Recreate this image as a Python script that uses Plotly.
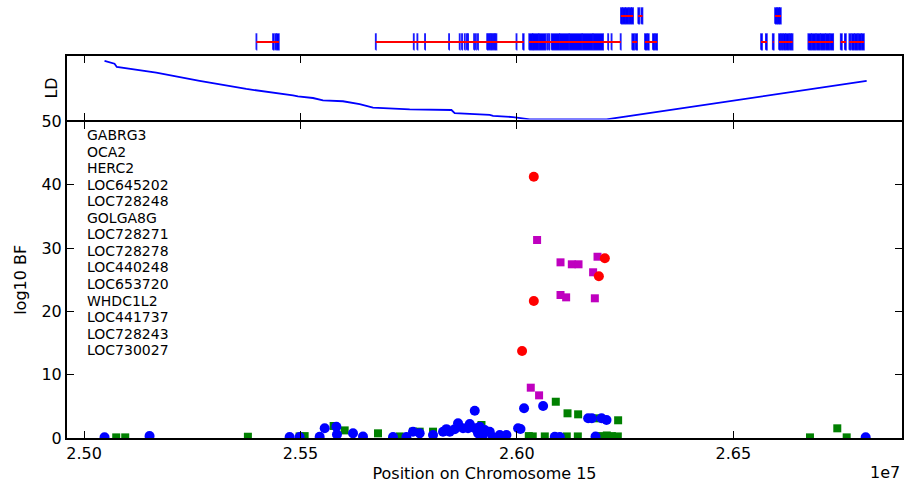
import plotly.graph_objects as go

# ---------------- gene annotation track ----------------
GENE_NAMES = ["GABRG3", "OCA2", "HERC2", "LOC645202", "LOC728248", "GOLGA8G", "LOC728271",
              "LOC728278", "LOC440248", "LOC653720", "WHDC1L2", "LOC441737", "LOC728243", "LOC730027"]
GENE_START = [25398000, 25673800, 26028200, 26240200, 26266300, 26280200, 26295700,
              26563800, 26591000, 26596200, 26605400, 26673100, 26748000, 26767900]
GENE_END = [25450300, 26016000, 26240200, 26268600, 26277900, 26290300, 26324100,
            26577700, 26593500, 26610000, 26637100, 26730900, 26760300, 26801900]
GENE_ROW = [1, 1, 1, 2, 1, 2, 1, 1, 1, 2, 1, 1, 1, 1]
GENE_EXONS = [
    [(25398000, 25398600), (25436400, 25438500), (25442000, 25443500), (25445500, 25450300)],
    [(25673800, 25674500), (25761500, 25762200), (25769800, 25770500), (25787500, 25788200),
     (25843000, 25843700), (25867600, 25868400), (25872900, 25873700), (25879300, 25880000),
     (25884000, 25884700), (25886800, 25887500), (25900800, 25901500), (25905000, 25905700),
     (25909800, 25910500), (25931000, 25932000), (25934000, 25935000), (25937000, 25938000),
     (25940000, 25941000), (25943000, 25944000), (25946000, 25947000), (25949000, 25950000),
     (25952000, 25953000), (25998800, 25999500), (26014000, 26016000)],
    [(26028200, 26036000), (26037000, 26050000), (26051500, 26066500), (26070000, 26071000),
     (26074000, 26075000), (26080000, 26098000), (26099500, 26120000), (26121500, 26150000),
     (26151500, 26175000), (26176500, 26199300), (26210500, 26211200), (26218400, 26219100),
     (26239500, 26240200)],
    [(26240200, 26243000), (26244500, 26250000), (26251500, 26258000), (26259500, 26264000),
     (26265500, 26268600)],
    [(26266300, 26270900), (26274200, 26277900)],
    [(26280200, 26283000), (26287500, 26290300)],
    [(26295700, 26300000), (26302000, 26304900), (26314100, 26318000), (26320000, 26324100)],
    [(26563800, 26566500), (26575000, 26577700)],
    [(26591000, 26593500)],
    [(26596200, 26600500), (26601500, 26606000), (26607000, 26610000)],
    [(26605400, 26609000), (26611000, 26614000), (26616000, 26620000), (26622000, 26628000),
     (26630000, 26633000), (26634500, 26637100)],
    [(26673100, 26680000), (26682000, 26690000), (26692000, 26700000), (26702000, 26712000),
     (26714000, 26722000), (26724000, 26730900)],
    [(26748000, 26751000), (26757500, 26760300)],
    [(26767900, 26771000), (26774000, 26779000), (26781000, 26787000), (26789000, 26795000),
     (26797000, 26801900)],
]

# ---------------- LD profile ----------------
LD_POS = [25047400, 25070500, 25075800, 25166900, 25267000, 25374900, 25482700, 25494200,
          25528900, 25552000, 25598200, 25636800, 25667600, 25752400, 25848800, 25856400,
          25937300, 25945000, 25991200, 26029800, 26207100, 26808100]
LD_VAL = [59.19, 58.74, 58.24, 57.33, 56.05, 54.79, 53.77, 53.62, 53.37, 53.01, 52.86,
          52.40, 51.85, 51.60, 51.49, 50.99, 50.73, 50.58, 50.38, 50.02, 50.02, 56.05]

# ---------------- association results (log10 Bayes factors) ----------------
GREEN_POS = [25074400, 25095200, 25378600, 25498100, 25509700, 25576700, 25602200, 25679200,
             25729300, 25760000, 25775500, 25806300, 25918200, 26027500, 26036700, 26064500,
             26089900, 26117000, 26115300, 26141500, 26140800, 26184000, 26191600, 26207800,
             26219400, 26233900, 26233200, 26677100, 26740200, 26761900]
GREEN_BF = [0.1, 0.1, 0.2, 0.25, 0.3, 1.9, 1.2, 0.74, 0.25, 1.0, 1.0, 1.0, 2.05, 0.3, 0.25,
            0.25, 5.73, 3.9, 0.25, 3.74, 0.25, 3.11, 0.3, 0.4, 0.3, 2.8, 0.25, 0.1, 1.53, 0.1]

BLUE_POS = [25047400, 25151400, 25475000, 25498100, 25544400, 25556000, 25583000, 25584400,
            25621400, 25644500, 25713800, 25744800, 25760000, 25775500, 25806300, 25829400,
            25837300, 25844900, 25856400, 25864100, 25875600, 25887200, 25891100, 25902700,
            25902700, 25910300, 25914200, 25921900, 25925800, 25937300, 25944300, 25960500,
            25975900, 26002800, 26008300, 26016600, 26060600, 26087600, 26099200, 26164600,
            26173200, 26181700, 26195600, 26207100, 26805800]
BLUE_BF = [0.1, 0.3, 0.15, 0.15, 0.2, 1.53, 1.79, 0.55, 0.74, 0.25, 0.15, 0.15, 1.0, 0.74,
           0.47, 1.0, 1.4, 1.0, 1.4, 2.32, 1.53, 1.53, 2.2, 4.31, 1.53, 0.74, 1.79, 0.47, 1.26,
           1.0, 0.15, 0.47, 0.47, 1.53, 1.42, 4.69, 5.06, 0.2, 0.15, 3.11, 3.11, 0.25, 3.11,
           2.84, 0.1]

MAGENTA_POS = [26046700, 26186300, 26100800, 26126900, 26142400, 26176100, 26100800,
               26113800, 26180100, 26032100, 26051300]
MAGENTA_BF = [31.28, 28.64, 27.75, 27.44, 27.44, 26.18, 22.59, 22.22, 22.07, 7.95, 6.74]

RED_POS = [26039100, 26203200, 26189400, 26039100, 26012000]
RED_BF = [41.28, 28.39, 25.54, 21.64, 13.74]

XTICKS = [25000000, 25500000, 26000000, 26500000]
XTICK_TEXT = ["2.50", "2.55", "2.60", "2.65"]
YTICKS = [0, 10, 20, 30, 40, 50]
LD_TICKS = [50]

X_RANGE = [24960700, 26889700]

EXON_HALF = 0.3

# exon boxes and intron lines for the gene track
ex_x, ex_y = [], []
for exons, row in zip(GENE_EXONS, GENE_ROW):
    for s, e in exons:
        ex_x += [s, e, e, s, s, None]
        ex_y += [row - EXON_HALF, row - EXON_HALF, row + EXON_HALF, row + EXON_HALF,
                 row - EXON_HALF, None]
in_x, in_y = [], []
for s, e, row in zip(GENE_START, GENE_END, GENE_ROW):
    in_x += [s, e, None]
    in_y += [row, row, None]

fig = go.Figure()
fig.add_trace(go.Scatter(x=ex_x, y=ex_y, mode="lines", fill="toself", fillcolor="#0000ff",
                         line=dict(color="rgba(0,0,255,0.85)", width=1.6),
                         xaxis="x", yaxis="y", hoverinfo="skip"))
fig.add_trace(go.Scatter(x=in_x, y=in_y, mode="lines", line=dict(color="#ff0000", width=2),
                         xaxis="x", yaxis="y", hoverinfo="skip"))

fig.add_trace(go.Scatter(x=LD_POS, y=LD_VAL, mode="lines", line=dict(color="#0000ff", width=1.8),
                         xaxis="x2", yaxis="y2"))

fig.add_trace(go.Scatter(x=GREEN_POS, y=GREEN_BF, mode="markers",
                         marker=dict(symbol="square", size=8, color="#008000"),
                         xaxis="x3", yaxis="y3"))
fig.add_trace(go.Scatter(x=BLUE_POS, y=BLUE_BF, mode="markers",
                         marker=dict(symbol="circle", size=10, color="#0000ff"),
                         xaxis="x3", yaxis="y3"))
fig.add_trace(go.Scatter(x=MAGENTA_POS, y=MAGENTA_BF, mode="markers",
                         marker=dict(symbol="square", size=8, color="#bf00bf"),
                         xaxis="x3", yaxis="y3"))
fig.add_trace(go.Scatter(x=RED_POS, y=RED_BF, mode="markers",
                         marker=dict(symbol="circle", size=10, color="#ff0000"),
                         xaxis="x3", yaxis="y3"))

PLOT_H = 438.0
MAIN_TOP = 316.5 / PLOT_H
# the LD panel sits 2 px higher so its lower frame line lies on the main panel's top line
LD_BOTTOM = MAIN_TOP + 2 / PLOT_H
LD_TOP = 382.3 / PLOT_H

frame = dict(showline=True, linecolor="black", linewidth=2, mirror="ticks",
             ticks="inside", ticklen=7, tickwidth=1, tickcolor="black",
             showgrid=False, zeroline=False, automargin=False)

fig.update_layout(
    width=907, height=491,
    margin=dict(l=67, r=5, t=0, b=53, autoexpand=False),
    plot_bgcolor="white", paper_bgcolor="white",
    showlegend=False,
    font=dict(family="DejaVu Sans", color="black", size=16),
    xaxis=dict(domain=[0, 1], anchor="y", matches="x3", visible=False, automargin=False),
    yaxis=dict(domain=[0.877, 1], anchor="x", range=[0.538, 2.615], visible=False,
               automargin=False),
    xaxis2=dict(domain=[0, 1], anchor="y2", matches="x3", tickvals=XTICKS,
                showticklabels=False, **frame),
    yaxis2=dict(domain=[LD_BOTTOM, LD_TOP], anchor="x2", range=[50, 60], tickvals=LD_TICKS,
                showticklabels=False, **frame),
    xaxis3=dict(domain=[0, 1], anchor="y3", range=X_RANGE, tickvals=XTICKS,
                ticktext=XTICK_TEXT, tickfont=dict(size=16),
                title=dict(text="Position on Chromosome 15", font=dict(size=16), standoff=6),
                **frame),
    yaxis3=dict(domain=[0, MAIN_TOP], anchor="x3", range=[0, 50], tickvals=YTICKS,
                tickfont=dict(size=16), **frame),
)

# axis labels on the left
fig.add_annotation(text="log10 BF", xref="paper", yref="paper", x=-0.055, y=MAIN_TOP / 2,
                   textangle=-90, showarrow=False, font=dict(size=16),
                   xanchor="center", yanchor="middle")
fig.add_annotation(text="LD", xref="paper", yref="paper", x=-0.018,
                   y=(LD_BOTTOM + LD_TOP) / 2, textangle=-90, showarrow=False,
                   font=dict(size=16), xanchor="center", yanchor="middle")
# scale factor for the x tick labels
fig.add_annotation(text="1e7", xref="paper", yref="paper", x=1.0, y=-0.052,
                   showarrow=False, font=dict(size=16), xanchor="right", yanchor="top")

# gene names listed in the upper left of the main panel
for i, name in enumerate(GENE_NAMES):
    fig.add_annotation(text=name, xref="x3 domain", yref="y3 domain",
                       x=0.022, y=1 - (13.5 + 16.55 * i) / 316.5,
                       showarrow=False, font=dict(size=14),
                       xanchor="left", yanchor="middle")

fig.write_html("out.html")
